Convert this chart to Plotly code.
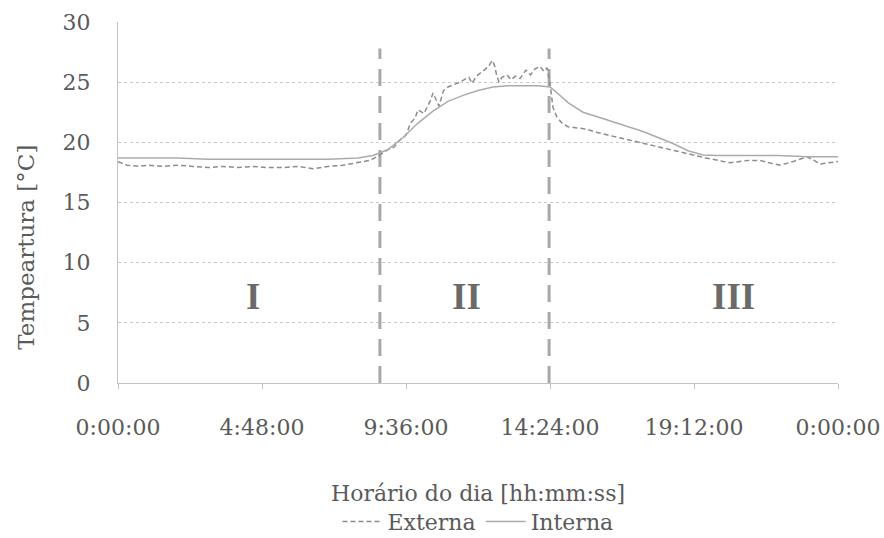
import plotly.graph_objects as go

# ---------------- data ----------------
interna_h = [0, 1, 2, 3, 4, 5, 6, 7, 8, 8.5, 9, 9.5, 10, 10.5, 11, 11.5, 12, 12.5,
             13, 13.5, 14, 14.4, 14.6, 15, 15.5, 16, 16.5, 17, 17.5, 18, 18.5, 19,
             19.5, 20, 21, 22, 23, 24]
interna_t = [18.7, 18.7, 18.7, 18.6, 18.6, 18.6, 18.6, 18.6, 18.7, 18.9, 19.4, 20.4,
             21.6, 22.6, 23.4, 23.9, 24.3, 24.6, 24.7, 24.7, 24.7, 24.6, 24.2, 23.3,
             22.5, 22.1, 21.7, 21.3, 20.9, 20.4, 19.9, 19.3, 18.95, 18.9, 18.9, 18.9,
             18.8, 18.8]

externa_h = [0, 0.3, 0.7, 1, 1.5, 2, 2.5, 3, 3.5, 4, 4.5, 5, 5.5, 6, 6.5, 7, 7.5, 8,
             8.4, 8.7, 9.0, 9.2, 9.4, 9.6, 9.75, 9.9, 10.0, 10.2, 10.4, 10.5, 10.6,
             10.7, 10.85, 11.0, 11.2, 11.4, 11.6, 11.7, 11.8, 11.95, 12.1, 12.2, 12.35,
             12.47, 12.55, 12.62, 12.7, 12.8, 12.97, 13.1, 13.25, 13.4, 13.6, 13.75,
             13.9, 14.07, 14.2, 14.3, 14.4, 14.5, 14.63, 14.8, 15.0, 15.3, 15.6, 16,
             16.5, 17, 17.4, 18, 18.7, 19.2, 19.6, 20, 20.4, 21, 21.4, 21.7, 22.07,
             22.5, 22.97, 23.2, 23.4, 24]
externa_t = [18.4, 18.1, 18.0, 18.1, 18.0, 18.1, 18.0, 17.9, 18.0, 17.9, 18.0, 17.9,
             17.9, 18.0, 17.8, 18.0, 18.1, 18.3, 18.5, 18.9, 19.4, 19.6, 20.2, 20.6,
             21.6, 22.0, 22.7, 22.4, 23.4, 24.1, 23.6, 23.0, 24.3, 24.6, 24.8, 25.0,
             25.3, 25.4, 24.9, 25.5, 25.8, 26.0, 26.3, 26.8, 26.4, 25.6, 25.0, 25.4,
             25.6, 25.2, 25.5, 25.3, 26.0, 25.6, 26.1, 26.3, 25.9, 26.2, 24.9, 22.9,
             22.1, 21.6, 21.3, 21.2, 21.1, 20.8, 20.5, 20.2, 20.0, 19.6, 19.2, 18.9,
             18.7, 18.5, 18.3, 18.5, 18.5, 18.3, 18.1, 18.4, 18.8, 18.5, 18.2, 18.4]

phase_bounds = [8.73, 14.37]
phase_top = 27.8
phase_labels = ["I", "II", "III"]
phase_label_x = [4.5, 11.63, 20.5]
phase_label_y = 7.2

y_ticks = [0, 5, 10, 15, 20, 25, 30]
tick_vals = [0, 4.8, 9.6, 14.4, 19.2, 24]
tick_text = ["0:00:00", "4:48:00", "9:36:00", "14:24:00", "19:12:00", "0:00:00"]

# ---------------- figure ----------------
FONT = "DejaVu Serif, Liberation Serif, serif"
NUMFONT = "Liberation Serif, Times New Roman, serif"
TXT = "#5a5a5a"
fig = go.Figure()

for xb in phase_bounds:
    fig.add_trace(go.Scatter(
        x=[xb, xb], y=[0, phase_top], mode="lines",
        line=dict(color="#a8a8a8", width=3, dash="17px,10px"),
        showlegend=False, hoverinfo="skip"))

fig.add_trace(go.Scatter(
    x=externa_h, y=externa_t, mode="lines", name="Externa",
    line=dict(color="#8c8c8c", width=1.5, dash="5px,3px")))
fig.add_trace(go.Scatter(
    x=interna_h, y=interna_t, mode="lines", name="Interna",
    line=dict(color="#ababab", width=1.5)))

for lbl, lx in zip(phase_labels, phase_label_x):
    fig.add_annotation(x=lx, y=phase_label_y, text="<b>%s</b>" % lbl,
                       showarrow=False, xref="x", yref="y",
                       font=dict(family=NUMFONT, size=37, color="#6a6a6a"))

# y-axis title (placed off-centre, as in the reference)
fig.add_annotation(x=-0.128, y=0.377, xref="paper", yref="paper",
                   text="Tempeartura [°C]", textangle=-90, showarrow=False,
                   xanchor="center", yanchor="middle",
                   font=dict(family=FONT, size=23, color=TXT))

fig.update_layout(
    width=884, height=538,
    margin=dict(l=118, r=46, t=22, b=155, autoexpand=False),
    paper_bgcolor="white", plot_bgcolor="white",
    font=dict(family=FONT, color=TXT, size=22),
    legend=dict(orientation="h", x=0.5, xanchor="center", y=-0.326,
                yanchor="top", font=dict(family=FONT, size=22, color=TXT),
                itemwidth=40, tracegroupgap=0),
)
fig.update_xaxes(
    range=[0, 24], tickvals=tick_vals, ticktext=tick_text,
    showgrid=False, zeroline=False, automargin=False,
    showline=True, linecolor="#c4c4c4", linewidth=1,
    ticks="outside", ticklen=5, tickcolor="#c4c4c4",
    ticklabelstandoff=20,
    tickfont=dict(family=FONT, size=22, color=TXT),
    title=dict(text="Horário do dia [hh:mm:ss]", standoff=46,
               font=dict(family=FONT, size=22, color=TXT)),
)
fig.update_yaxes(
    range=[0, 30], tickvals=y_ticks,
    showgrid=True, gridcolor="#c8c8c8", griddash="dot", gridwidth=1,
    zeroline=False, automargin=False,
    showline=True, linecolor="#c4c4c4", linewidth=1,
    ticks="", ticklabelstandoff=22,
    tickfont=dict(family=FONT, size=22, color=TXT),
)

fig.write_html(
    "out.html",
    config={"displayModeBar": False},
    post_script="document.body.style.margin='0px';"
                "document.body.style.overflow='hidden';",
)
